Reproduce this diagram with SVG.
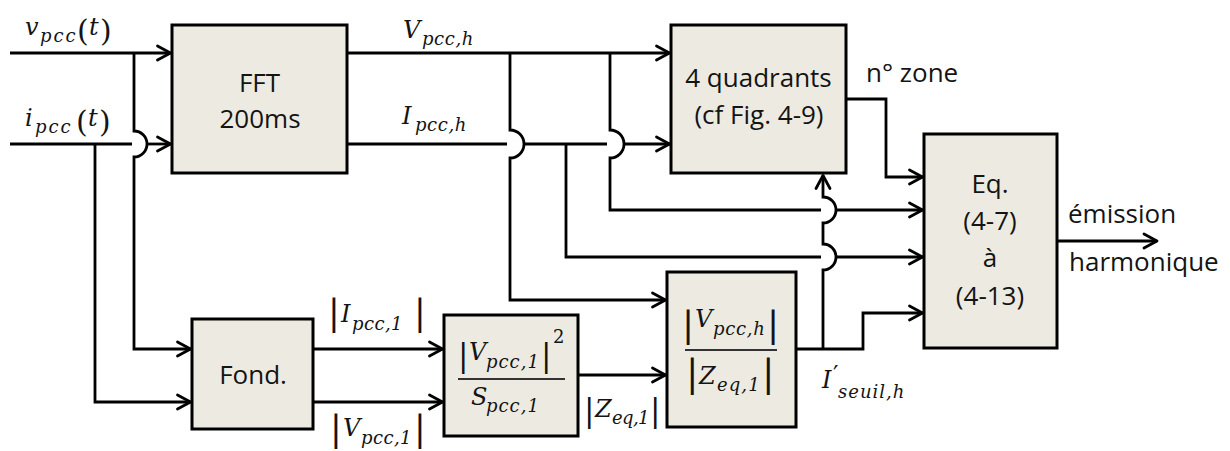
<svg xmlns="http://www.w3.org/2000/svg" width="1230" height="451" viewBox="0 0 1230 451">
<defs>
<style>
.box{fill:#EDEBE1;stroke:#000;stroke-width:3}
.w{fill:none;stroke:#000;stroke-width:2.8}
.a{marker-end:url(#ah)}
.t{font-family:"Open Sans","Liberation Sans",sans-serif;font-size:26px;fill:#141414}
.m{font-family:"DejaVu Serif","Liberation Serif",serif;font-style:italic;font-size:24px;fill:#141414}
.s{font-size:18px}
.n{font-style:normal}
.fl{stroke:#333;stroke-width:2}
</style>
<marker id="ah" markerUnits="userSpaceOnUse" markerWidth="20" markerHeight="20" viewBox="-16 -10 20 20" refX="0" refY="0" orient="auto" overflow="visible">
<path d="M-13,-7 L0,0 L-13,7" fill="none" stroke="#000" stroke-width="2.8" stroke-linecap="round" stroke-linejoin="round"/>
</marker>
</defs>
<rect width="1230" height="451" fill="#fff"/>

<g id="fft">
<rect class="box" x="172" y="25" width="175" height="148"/>
<text class="t" x="259.5" y="92" text-anchor="middle">FFT</text>
<text class="t" x="260" y="128" text-anchor="middle">200ms</text>
</g>

<g id="quadrants">
<rect class="box" x="671" y="25" width="175" height="148"/>
<text class="t" x="758.5" y="87" text-anchor="middle">4 quadrants</text>
<text class="t" x="759" y="124" text-anchor="middle">(cf Fig. 4-9)</text>
</g>

<g id="eq">
<rect class="box" x="924" y="134" width="133" height="214"/>
<text class="t" x="990" y="193" text-anchor="middle">Eq.</text>
<text class="t" x="990" y="230" text-anchor="middle">(4-7)</text>
<text class="t" x="990" y="267" text-anchor="middle">à</text>
<text class="t" x="990" y="305" text-anchor="middle">(4-13)</text>
</g>

<g id="fond">
<rect class="box" x="192" y="319" width="121" height="110"/>
<text class="t" x="253" y="384" text-anchor="middle">Fond.</text>
</g>

<g id="ratio1">
<rect class="box" x="444" y="315" width="134" height="121"/>
<text class="m"><tspan class="n" x="458" y="366" font-size="31">|</tspan><tspan x="469" y="360">V</tspan><tspan class="s" x="486" y="368" letter-spacing="1">pcc,1</tspan><tspan class="n" x="541" y="366" font-size="31">|</tspan><tspan class="n s" x="553" y="343">2</tspan></text>
<line class="fl" x1="458" y1="379" x2="565" y2="379"/>
<text class="m"><tspan x="471" y="405">S</tspan><tspan class="s" x="486" y="412" letter-spacing="1">pcc,1</tspan></text>
</g>

<g id="ratio2">
<rect class="box" x="667" y="272" width="129" height="155"/>
<text class="m"><tspan class="n" x="682" y="336.5" font-size="36">|</tspan><tspan x="695" y="327">V</tspan><tspan class="s" x="713" y="335" letter-spacing="0.7">pcc,h</tspan><tspan class="n" x="767" y="336.5" font-size="36">|</tspan></text>
<line class="fl" x1="685" y1="350" x2="777" y2="350"/>
<text class="m"><tspan class="n" x="686" y="386" font-size="37">|</tspan><tspan x="699" y="384">Z</tspan><tspan class="s" x="717" y="391" letter-spacing="1.1">eq,1</tspan><tspan class="n" x="762" y="386" font-size="37">|</tspan></text>
</g>

<g id="connectors">
<path class="w a" d="M10,53 H170.5"/>
<path class="w a" d="M134,53 V131 A13,13 0 0 1 134,157 V349 H190.5"/>
<path class="w" d="M10,144 H132"/>
<path class="w a" d="M147,144 H170.5"/>
<path class="w a" d="M95,144 V402 H190.5"/>
<path class="w a" d="M347,53 H669.5"/>
<path class="w" d="M347,144 H507 M524,144 H607"/>
<path class="w a" d="M624,144 H669.5"/>
<path class="w a" d="M510,53 V130 A14,14 0 0 1 510,158 V300 H665.5"/>
<path class="w" d="M610,53 V130 A14,14 0 0 1 610,158 V210 H821"/>
<path class="w a" d="M836,210 H922.5"/>
<path class="w" d="M566,144 V257 H821"/>
<path class="w a" d="M836,257 H922.5"/>
<path class="w a" d="M846,99 H886 V177 H922.5"/>
<path class="w a" d="M313,349 H442.5"/>
<path class="w a" d="M313,402 H442.5"/>
<path class="w a" d="M578,375 H665.5"/>
<path class="w a" d="M796,349 H863 V313 H922.5"/>
<path class="w a" d="M823,349 V270 A13,13 0 0 0 823,244 V223 A13,13 0 0 0 823,197 V175.5"/>
<path class="w a" d="M1057,241 H1157"/>
</g>

<g id="labels">
<text class="m"><tspan x="25" y="35">v</tspan><tspan class="s" x="40" y="42" letter-spacing="2">pcc</tspan><tspan class="n" x="77" y="41" font-size="30">(</tspan><tspan x="89" y="35">t</tspan><tspan class="n" x="100" y="41" font-size="30">)</tspan></text>
<text class="m"><tspan x="25" y="126">i</tspan><tspan class="s" x="35" y="133" letter-spacing="2">pcc</tspan><tspan class="n" x="76" y="132" font-size="30">(</tspan><tspan x="88" y="126">t</tspan><tspan class="n" x="99" y="132" font-size="30">)</tspan></text>
<text class="m"><tspan x="403" y="38">V</tspan><tspan class="s" x="422" y="45" letter-spacing="0.6">pcc,h</tspan></text>
<text class="m"><tspan x="402" y="124">I</tspan><tspan class="s" x="415" y="131" letter-spacing="0.6">pcc,h</tspan></text>
<text class="t" x="866" y="82">n° zone</text>
<text class="t" x="1068" y="223">émission</text>
<text class="t" x="1069" y="271">harmonique</text>
<text class="m"><tspan class="n" x="328" y="324.5" font-size="35">|</tspan><tspan x="341" y="322">I</tspan><tspan class="s" x="352" y="330" letter-spacing="0.4">pcc,1</tspan><tspan class="n" x="414" y="324.5" font-size="35">|</tspan></text>
<text class="m"><tspan class="n" x="330" y="441" font-size="35">|</tspan><tspan x="343" y="436">V</tspan><tspan class="s" x="361" y="444" letter-spacing="0.4">pcc,1</tspan><tspan class="n" x="414" y="441" font-size="35">|</tspan></text>
<text class="m"><tspan class="n" x="584" y="420.5" font-size="31">|</tspan><tspan x="595" y="417">Z</tspan><tspan class="s" x="612" y="424" letter-spacing="-0.6">eq,1</tspan><tspan class="n" x="650" y="420.5" font-size="31">|</tspan></text>
<text class="m"><tspan x="822" y="388">I</tspan><tspan class="n" x="833" y="383">′</tspan><tspan class="s" x="838" y="398" letter-spacing="1">seuil,h</tspan></text>
</g>
</svg>
